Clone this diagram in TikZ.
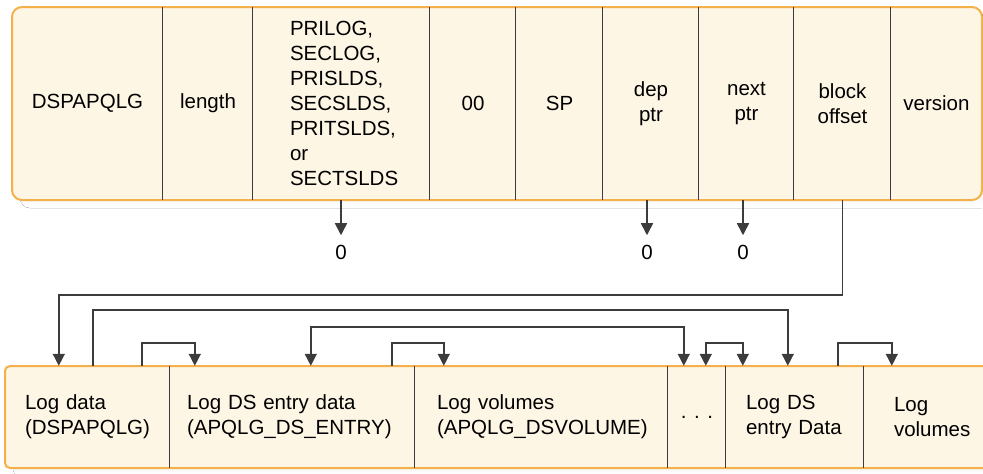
\documentclass[tikz,border=0pt]{standalone}
\usepackage{fontspec}
\setmainfont{Liberation Sans}
\usetikzlibrary{arrows.meta}
\definecolor{boxfill}{HTML}{FEF6E5}
\definecolor{boxedge}{HTML}{F4B04A}
\definecolor{ink}{HTML}{3C3C3C}
\definecolor{shade}{HTML}{DADADA}

\begin{document}
\begin{tikzpicture}[x=1pt,y=-1pt,
    font=\fontsize{20.5}{25}\selectfont,
    >={Triangle[width=12pt,length=12pt]},
    field/.style={minimum height=193pt, inner sep=0pt, align=center},
    slot/.style={minimum height=102pt, inner sep=0pt, align=left},
    sep/.style={draw=ink, line width=1.3pt},
    link/.style={draw=ink, line width=1.5pt},
    zero/.style={inner sep=0pt, outer sep=10pt}]
  \useasboundingbox (0,0) rectangle (983,474);
  \clip (0,0) rectangle (983,474);

  % control block
  \fill[shade, rounded corners=10pt] (20,14) rectangle (992,208);
  \draw[boxedge, fill=boxfill, line width=2pt, rounded corners=10pt] (12,7) rectangle (982,200);
  \node[field, minimum width=151pt] (tag) at (87.5,103.5) {DSPAPQLG};
  \node[field, minimum width=90pt] (len) at (208,103.5) {length};
  \node[field, text width=103pt, inner xsep=37pt, align=left] (typ) at (341.5,103.5)
    {PRILOG,\\SECLOG,\\PRISLDS,\\SECSLDS,\\PRITSLDS,\\or\\SECTSLDS};
  \node[field, minimum width=86pt] (zz) at (473,103.5) {00};
  \node[field, minimum width=87pt] (sp) at (559.5,103.5) {SP};
  \node[field, minimum width=96pt] (dep) at (651,103.5) {dep\\ptr};
  \node[field, minimum width=95pt] (nxt) at (746.5,103.5) {next\\ptr};
  \node[field, minimum width=97pt] (blk) at (842.5,103.5) {block\\offset};
  \node[field, minimum width=91pt] (ver) at (936.5,103.5) {version};
  \foreach \c in {len,typ,zz,sp,dep,nxt,blk,ver}
    \draw[sep] (\c.north west) -- (\c.south west);

  % data areas
  \fill[shade, rounded corners=5pt] (13,372) rectangle (1010,475);
  \draw[boxedge, fill=boxfill, line width=2pt, rounded corners=5pt] (5,366) rectangle (1000,468);
  \node[slot, text width=125pt, inner xsep=20pt] (ldata) at (87.5,417) {Log data\\(DSPAPQLG)};
  \node[slot, text width=211pt, inner xsep=17pt] (dsent) at (292.5,417) {Log DS entry data\\(APQLG\_DS\_ENTRY)};
  \node[slot, text width=209pt, inner xsep=22pt] (vols) at (541.5,417) {Log volumes\\(APQLG\_DSVOLUME)};
  \node[slot, minimum width=58pt, align=center] (dots) at (697,417) {. . .};
  \node[slot, text width=98pt, inner xsep=20pt] (dsent2) at (795,417) {Log DS\\entry Data};
  \node[slot, text width=76pt, inner xsep=30pt] (vols2) at (932,417) {Log\\volumes};
  \foreach \c in {dsent,vols,dots,dsent2,vols2}
    \draw[sep] (\c.north west) -- (\c.south west);

  % null pointers
  \node[zero] (z1) at (341,252.5) {0};
  \node[zero] (z2) at (647,252.5) {0};
  \node[zero] (z3) at (743,252.5) {0};
  \draw[link,->] (z1 |- typ.south) -- (z1);
  \draw[link,->] (z2 |- dep.south) -- (z2);
  \draw[link,->] (z3 |- nxt.south) -- (z3);

  % chains
  \draw[link,->] (blk.south) -- ++(0,95) -| ([xshift=54pt]ldata.north west);
  \draw[link,->] ([xshift=88pt]ldata.north west) -- ++(0,-56) -| ([xshift=62pt]dsent2.north west);
  \draw[link,<->] ([xshift=141pt]dsent.north west) -- ++(0,-39) -| ([xshift=16pt]dots.north west);
  \draw[link,->] ([xshift=137pt]ldata.north west) -- ++(0,-23) -| ([xshift=25pt]dsent.north west);
  \draw[link,->] ([xshift=222pt]dsent.north west) -- ++(0,-23) -| ([xshift=29pt]vols.north west);
  \draw[link,<->] ([xshift=38pt]dots.north west) -- ++(0,-23) -| ([xshift=17pt]dsent2.north west);
  \draw[link,->] ([xshift=112pt]dsent2.north west) -- ++(0,-23) -| ([xshift=28pt]vols2.north west);
\end{tikzpicture}
\end{document}
